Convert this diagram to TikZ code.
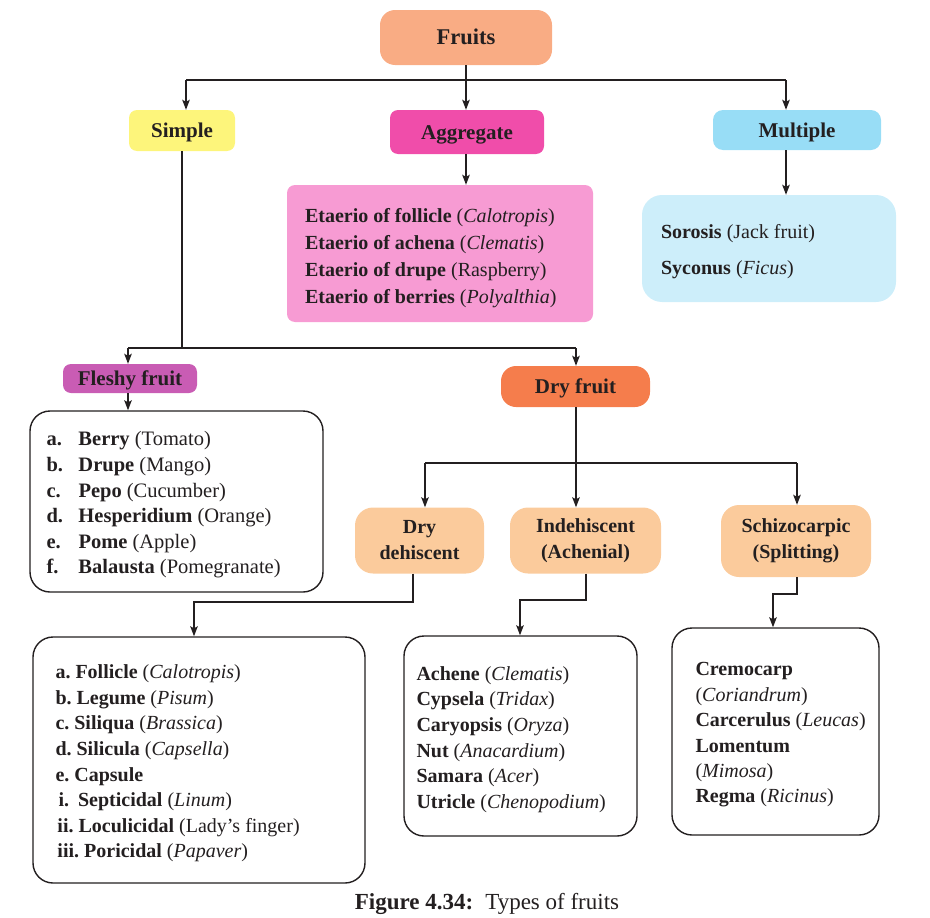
\documentclass[tikz,border=0pt]{standalone}
\usepackage{fontspec}
\setmainfont{Liberation Serif}
\usetikzlibrary{arrows.meta}

\definecolor{ink}{HTML}{231F20}
\definecolor{cFruits}{HTML}{F9AC84}
\definecolor{cSimple}{HTML}{FDF57B}
\definecolor{cAggr}{HTML}{F04DAA}
\definecolor{cAggrList}{HTML}{F79BD3}
\definecolor{cMult}{HTML}{98DDF6}
\definecolor{cMultList}{HTML}{CDEEFA}
\definecolor{cFleshy}{HTML}{C95CB4}
\definecolor{cDry}{HTML}{F57D4C}
\definecolor{cDrySub}{HTML}{FBCB9C}

\frenchspacing

\begin{document}
\begin{tikzpicture}[x=1pt,y=-1pt,
  every node/.style={text=ink, inner sep=0pt},
  headbox/.style={fill=#1, draw=none, font=\fontsize{21}{26}\selectfont\bfseries,
                  align=center, text height=14pt, text depth=0pt},
  twoline/.style={fill=cDrySub, draw=none, rounded corners=18pt,
                  font=\fontsize{20}{26}\selectfont\bfseries, align=center},
  listbox/.style={draw=ink, line width=1.4pt, fill=white, rounded corners=20pt},
  listtext/.style={anchor=west, align=left, yshift=-3.5pt, font=\fontsize{20}{25.6}\selectfont},
  conn/.style={draw=ink, line width=1.5pt},
  arr/.style={conn, -{Stealth[length=10pt,width=7.5pt,inset=2pt]}},
]
\useasboundingbox (0,0) rectangle (930,918);

% top level
\node[headbox=cFruits, rounded corners=15pt, minimum width=172pt, minimum height=55pt,
      font=\fontsize{22.5}{27}\selectfont\bfseries, text height=15pt] (fruits) at (466,37.5) {Fruits};
\node[headbox=cSimple, rounded corners=8pt, minimum width=106pt, minimum height=41pt] (simple) at (182,130.5) {Simple};
\node[headbox=cAggr, rounded corners=8pt, minimum width=154pt, minimum height=44pt] (aggregate) at (467,132) {Aggregate};
\node[headbox=cMult, rounded corners=10pt, minimum width=168pt, minimum height=40pt] (multiple) at (797,130) {Multiple};

% aggregate and multiple fruit lists
\node[fill=cAggrList, rounded corners=8pt, minimum width=306pt, minimum height=137pt] (etaerio) at (440,253.5) {};
\node[listtext, font=\fontsize{20}{27}\selectfont, yshift=-1.5pt] (etaeriotext) at ([xshift=18pt]etaerio.west)
{\textbf{Etaerio of follicle} (\textit{Calotropis})\\
 \textbf{Etaerio of achena} (\textit{Clematis})\\
 \textbf{Etaerio of drupe} (Raspberry)\\
 \textbf{Etaerio of berries} (\textit{Polyalthia})};

\node[fill=cMultList, rounded corners=20pt, minimum width=254pt, minimum height=107pt] (multlist) at (769,248.5) {};
\node[listtext, font=\fontsize{20}{36}\selectfont] (multtext) at ([xshift=19pt]multlist.west)
{\textbf{Sorosis} (Jack fruit)\\
 \textbf{Syconus} (\textit{Ficus})};

% simple fruits
\node[headbox=cFleshy, rounded corners=8pt, minimum width=134pt, minimum height=29pt] (fleshy) at (130,378.5) {Fleshy fruit};
\node[headbox=cDry, rounded corners=15pt, minimum width=149pt, minimum height=41pt] (dry) at (575.5,386.5) {Dry fruit};

\node[listbox, minimum width=293pt, minimum height=181pt] (fleshylist) at (176.5,501.5) {};
\node[listtext, font=\fontsize{20.5}{25.6}\selectfont] (fleshytext) at ([xshift=17pt]fleshylist.west)
{\textbf{\makebox[32pt][l]{a.}Berry} (Tomato)\\
 \textbf{\makebox[32pt][l]{b.}Drupe} (Mango)\\
 \textbf{\makebox[32pt][l]{c.}Pepo} (Cucumber)\\
 \textbf{\makebox[32pt][l]{d.}Hesperidium} (Orange)\\
 \textbf{\makebox[32pt][l]{e.}Pome} (Apple)\\
 \textbf{\makebox[32pt][l]{f.}Balausta} (Pomegranate)};

% dry fruit groups
\node[twoline, minimum width=129pt, minimum height=66pt] (drydeh) at (419.5,540.5) {Dry\\dehiscent};
\node[twoline, minimum width=151pt, minimum height=66pt] (indeh) at (585.5,540.5) {Indehiscent\\(Achenial)};
\node[twoline, minimum width=150pt, minimum height=72pt] (schizo) at (796,541) {Schizocarpic\\(Splitting)};

\node[listbox, minimum width=332pt, minimum height=246pt] (dehlist) at (199,760) {};
\node[listtext] (dehtext) at ([xshift=23pt]dehlist.west)
{\textbf{a. Follicle} (\textit{Calotropis})\\
 \textbf{b. Legume} (\textit{Pisum})\\
 \textbf{c. Siliqua} (\textit{Brassica})\\
 \textbf{d. Silicula} (\textit{Capsella})\\
 \textbf{e. Capsule}\\
 \hspace*{3pt}\textbf{i.\hspace{9pt}Septicidal} (\textit{Linum})\\
 \hspace*{2pt}\textbf{ii. Loculicidal} (Lady's finger)\\
 \hspace*{2pt}\textbf{iii. Poricidal} (\textit{Papaver})};

\node[listbox, minimum width=233pt, minimum height=200pt] (indlist) at (520.5,736) {};
\node[listtext, font=\fontsize{20}{25.7}\selectfont] (indtext) at ([xshift=13pt]indlist.west)
{\textbf{Achene} (\textit{Clematis})\\
 \textbf{Cypsela} (\textit{Tridax})\\
 \textbf{Caryopsis} (\textit{Oryza})\\
 \textbf{Nut} (\textit{Anacardium})\\
 \textbf{Samara} (\textit{Acer})\\
 \textbf{Utricle} (\textit{Chenopodium})};

\node[listbox, minimum width=207pt, minimum height=207pt] (schlist) at (775.5,731.5) {};
\node[listtext, font=\fontsize{20}{25.4}\selectfont] (schtext) at ([xshift=24pt]schlist.west)
{\textbf{Cremocarp}\\
 (\textit{Coriandrum})\\
 \textbf{Carcerulus} (\textit{Leucas})\\
 \textbf{Lomentum}\\
 (\textit{Mimosa})\\
 \textbf{Regma} (\textit{Ricinus})};

% caption
\node[font=\fontsize{23}{27}\selectfont] (caption) at (487,904)
{\textbf{Figure 4.34:}\hspace{12pt}Types of fruits};

% connectors: fruits to its three classes
\draw[conn] (fruits.south -| 466,0) -- (466,80);
\draw[conn] (186,80) -- (786,80);
\draw[arr] (186,80) -- (simple.north -| 186,0);
\draw[arr] (466,80) -- (aggregate.north -| 466,0);
\draw[arr] (786,80) -- (multiple.north -| 786,0);
\draw[arr] (aggregate.south -| 466,0) -- (etaerio.north -| 466,0);
\draw[arr] (multiple.south -| 786,0) -- (multlist.north -| 786,0);

% simple fruits split into fleshy and dry
\draw[conn] (simple.south) -- (182,348);
\draw[conn] (128,348) -- (576,348);
\draw[arr] (128,348) -- (fleshy.north -| 128,0);
\draw[arr] (576,348) -- (dry.north -| 576,0);
\draw[arr] (fleshy.south -| 128,0) -- (fleshylist.north -| 128,0);

% dry fruit groups
\draw[conn] (dry.south -| 576,0) -- (576,463);
\draw[conn] (425,463) -- (797,463);
\draw[arr] (425,463) -- (drydeh.north -| 425,0);
\draw[arr] (576,463) -- (indeh.north -| 576,0);
\draw[arr] (797,463) -- (schizo.north -| 797,0);

% groups to their lists
\draw[arr] (drydeh.south -| 413,0) -- (413,602) -- (194,602) -- (dehlist.north -| 194,0);
\draw[arr] (indeh.south -| 586,0) -- (586,600) -- (520,600) -- (indlist.north -| 520,0);
\draw[arr] (schizo.south -| 797,0) -- (797,594) -- (773,594) -- (schlist.north -| 773,0);
\end{tikzpicture}
\end{document}
